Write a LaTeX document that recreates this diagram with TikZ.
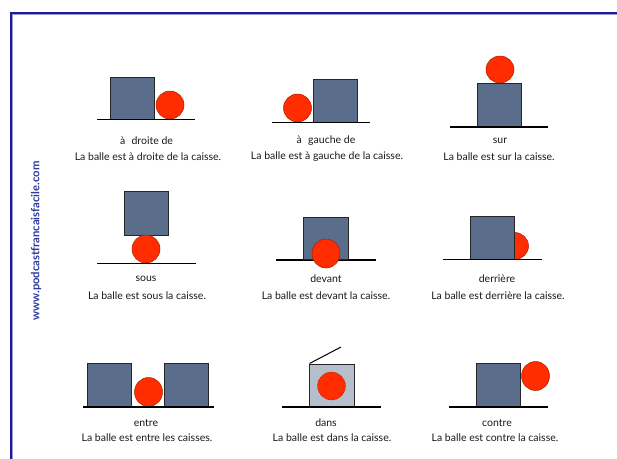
\documentclass[tikz,border=0pt]{standalone}
\usepackage{fontspec}
\setmainfont{Lato}
\definecolor{crateblue}{HTML}{5A6D8A}
\definecolor{cratelight}{HTML}{B4BFCB}
\definecolor{ballred}{HTML}{FF2D00}
\definecolor{balledge}{HTML}{A82000}
\definecolor{framenavy}{HTML}{1C1C96}
\definecolor{webblue}{HTML}{2E3AA0}
\begin{document}
\begin{tikzpicture}[x=1pt,y=-1pt,
  crate/.style={fill=crateblue,draw=black!85,line width=0.8pt},
  cratein/.style={fill=cratelight,draw=black!85,line width=0.8pt},
  ball/.style={fill=ballred,draw=balledge,line width=0.5pt},
  ground/.style={draw=black,line width=1.5pt},
  word/.style={font=\fontsize{10.5}{12}\selectfont,text=black!90,inner sep=0pt},
  sentence/.style={font=\fontsize{10.5}{12}\selectfont,text=black!90,inner sep=0pt}]
\useasboundingbox (0,0) rectangle (617,458);
\fill[white] (0,0) rectangle (617,458);
% frame
\draw[framenavy,line width=1.8pt] (11,470) -- (11,13) -- (630,13);
\draw[framenavy!45,line width=0.5pt] (12.4,470) -- (12.4,14.4) -- (630,14.4);
% watermark
\node[rotate=90,font=\fontsize{11.3}{13}\selectfont\bfseries,text=webblue,inner sep=0pt] (web) at (36,241) {www.podcastfrancaisfacile.com};

% 1 a droite de
\draw[crate] (110,77) rectangle (154,119);
\draw[ball] (170,105) ellipse [x radius=14pt,y radius=14pt];
\draw[ground] (97,119.5) -- (195,119.5);
\node[word] (w1) at (146.5,141) {à\hspace{0.6em}droite de};
\node[sentence] (s1) at (148,157) {La balle est à droite de la caisse.};

% 2 a gauche de
\draw[crate] (313,79) rectangle (357.5,122);
\draw[ball] (297.5,108) ellipse [x radius=14pt,y radius=14pt];
\draw[ground] (272,122.5) -- (370,122.5);
\node[word] (w2) at (326,141) {à\hspace{0.6em}gauche de};
\node[sentence] (s2) at (327,157) {La balle est à gauche de la caisse.};

% 3 sur
\draw[crate] (477,83) rectangle (521.5,126.5);
\draw[ball] (500,69.5) ellipse [x radius=14pt,y radius=13.5pt];
\draw[ground] (450,127) -- (548,127);
\node[word] (w3) at (500,141) {sur};
\node[sentence] (s3) at (499,157) {La balle est sur la caisse.};

% 4 sous
\draw[crate] (124,191) rectangle (168,235);
\draw[ball] (146,249) ellipse [x radius=14pt,y radius=14pt];
\draw[ground] (97,263.5) -- (196,263.5);
\node[word] (w4) at (146,279) {sous};
\node[sentence] (s4) at (147,296) {La balle est sous la caisse.};

% 5 devant
\draw[ground] (276,260) -- (376,260);
\draw[crate] (303.5,217) rectangle (348,259.5);
\draw[ball] (326,253.5) ellipse [x radius=14pt,y radius=14.5pt];
\node[word] (w5) at (326,279) {devant};
\node[sentence] (s5) at (326,296) {La balle est devant la caisse.};

% 6 derriere
\draw[ball] (514.5,246) ellipse [x radius=14pt,y radius=13.5pt];
\draw[crate] (470.5,216) rectangle (514.5,259);
\draw[ground] (443,259.5) -- (542,259.5);
\node[word] (w6) at (497,279) {derrière};
\node[sentence] (s6) at (498,296) {La balle est derrière la caisse.};

% 7 entre
\draw[crate] (87,363.5) rectangle (131.5,406.5);
\draw[crate] (164.5,363.5) rectangle (208.5,406.5);
\draw[ball] (148.5,392) ellipse [x radius=14pt,y radius=14.5pt];
\draw[ground] (82.5,407) -- (214,407);
\node[word] (w7) at (146,423) {entre};
\node[sentence] (s7) at (147,438) {La balle est entre les caisses.};

% 8 dans
\draw[cratein] (309.5,364) rectangle (354,406.5);
\draw[fill=ballred,draw=balledge,line width=0.5pt,dash pattern=on 1pt off 1pt] (331.5,386) ellipse [x radius=14pt,y radius=14pt];
\draw[black,line width=1pt] (309.5,363.5) -- (341,347);
\draw[ground] (282,407) -- (381,407);
\node[word] (w8) at (326,423) {dans};
\node[sentence] (s8) at (332,438) {La balle est dans la caisse.};

% 9 contre
\draw[crate] (476,363) rectangle (520,406.5);
\draw[ball] (535.5,376) ellipse [x radius=14pt,y radius=14.5pt];
\draw[ground] (449,407) -- (547.5,407);
\node[word] (w9) at (497,423) {contre};
\node[sentence] (s9) at (495,438) {La balle est contre la caisse.};
\end{tikzpicture}
\end{document}
